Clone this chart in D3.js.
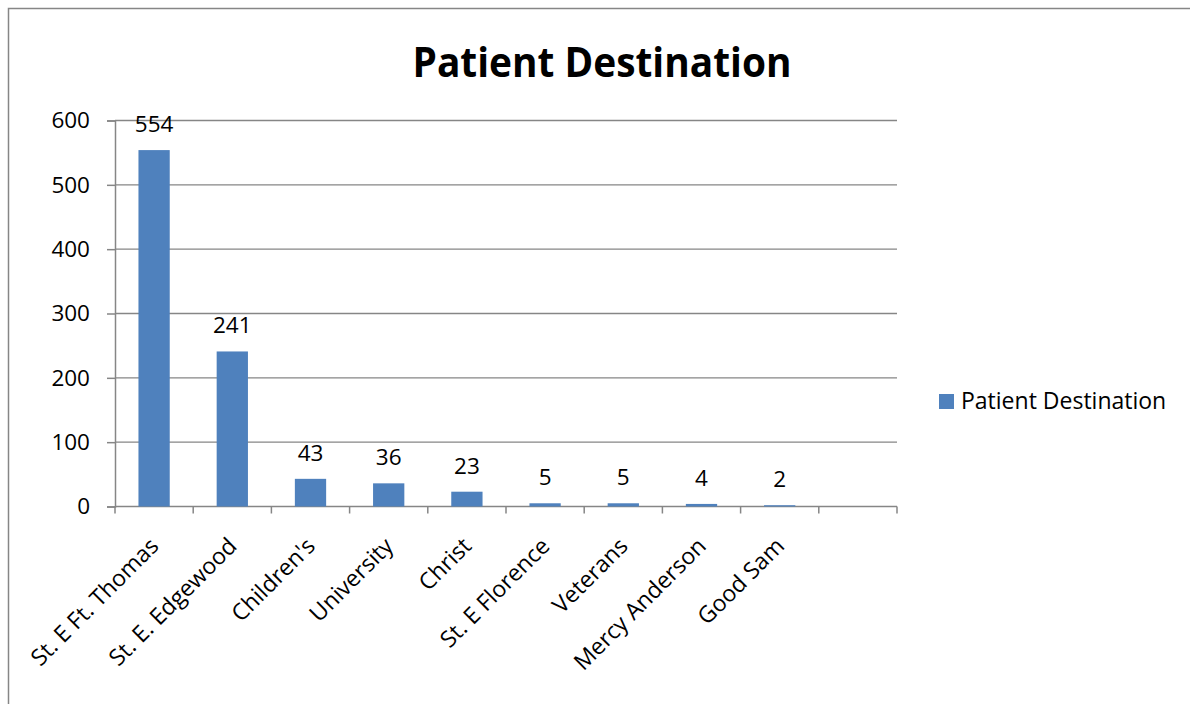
<!DOCTYPE html>
<html>
<head>
<meta charset="utf-8">
<script src="https://cdn.jsdelivr.net/npm/d3@7"></script>
<style>
  body { margin: 0; background: #fff; }
  text { font-family: "Open Sans", sans-serif; fill: #000; }
</style>
</head>
<body>
<div id="chart"></div>
<script>
var svgWidth = 1190;
var svgHeight = 704;

// data
var categories = ["St. E Ft. Thomas", "St. E. Edgewood", "Children's", "University", "Christ",
                  "St. E Florence", "Veterans", "Mercy Anderson", "Good Sam", ""];
var values = [554, 241, 43, 36, 23, 5, 5, 4, 2, null];
var yTicks = [0, 100, 200, 300, 400, 500, 600];
var seriesName = "Patient Destination";

var margin = { top: 120.5, left: 115, right: 293, bottom: 197.5 };
var width = svgWidth - margin.left - margin.right;
var height = svgHeight - margin.top - margin.bottom;

var svg = d3.select("#chart")
  .append("svg")
  .attr("width", svgWidth)
  .attr("height", svgHeight);

// outer frame
svg.append("rect")
  .attr("x", 8.5).attr("y", 8.5)
  .attr("width", svgWidth).attr("height", svgHeight)
  .attr("fill", "none")
  .attr("stroke", "#868686")
  .attr("stroke-width", 1.5);

svg.append("text")
  .attr("x", 412.5).attr("y", 76.5)
  .attr("textLength", 379)
  .attr("lengthAdjust", "spacingAndGlyphs")
  .style("font-size", "42px")
  .style("font-weight", "bold")
  .text(seriesName);

var chartGroup = svg.append("g")
  .attr("transform", `translate(${margin.left}, ${margin.top})`);

var xScale = d3.scaleBand()
  .domain(d3.range(categories.length))
  .range([0, width])
  .paddingInner(0.6)
  .paddingOuter(0.3);

var yScale = d3.scaleLinear()
  .domain([0, 600])
  .range([height, 0]);

// gridlines
chartGroup.selectAll(".grid")
  .data(yTicks.slice(1))
  .enter()
  .append("line")
  .attr("x1", 0).attr("x2", width)
  .attr("y1", d => yScale(d)).attr("y2", d => yScale(d))
  .attr("stroke", "#868686")
  .attr("stroke-width", 1.3);

// y axis
var leftAxis = d3.axisLeft(yScale)
  .tickValues(yTicks)
  .tickSize(8)
  .tickPadding(17);
var yAxis = chartGroup.append("g").call(leftAxis);
yAxis.select(".domain").attr("stroke", "#868686").attr("stroke-width", 1.5);
yAxis.selectAll(".tick line").attr("stroke", "#868686").attr("stroke-width", 1.5);
yAxis.selectAll(".tick text")
  .style("font-size", "22.5px")
  .style("font-family", "'Open Sans', sans-serif")
  .attr("fill", "#000");

// x axis with ticks at band boundaries
var step = xScale.step();
chartGroup.append("line")
  .attr("x1", 0).attr("x2", width)
  .attr("y1", height).attr("y2", height)
  .attr("stroke", "#868686")
  .attr("stroke-width", 1.5);
chartGroup.selectAll(".xtick")
  .data(d3.range(categories.length + 1))
  .enter()
  .append("line")
  .attr("x1", d => d * step).attr("x2", d => d * step)
  .attr("y1", height).attr("y2", height + 7)
  .attr("stroke", "#868686")
  .attr("stroke-width", 1.5);

// bars
chartGroup.selectAll(".bar")
  .data(values)
  .enter()
  .filter(d => d !== null)
  .append("rect")
  .attr("x", (d, i) => xScale(i))
  .attr("y", d => yScale(d))
  .attr("width", xScale.bandwidth())
  .attr("height", d => height - yScale(d))
  .attr("fill", "#4F81BD");

// value labels
chartGroup.selectAll(".val")
  .data(values)
  .enter()
  .filter(d => d !== null)
  .append("text")
  .attr("x", (d, i) => xScale(i) + xScale.bandwidth() / 2)
  .attr("y", d => yScale(d) - 18)
  .attr("text-anchor", "middle")
  .style("font-size", "22.5px")
  .text(d => d);

// category labels
chartGroup.selectAll(".cat")
  .data(categories)
  .enter()
  .append("text")
  .attr("text-anchor", "end")
  .attr("transform", (d, i) => `translate(${xScale(i) + xScale.bandwidth() / 2 + 6}, ${height + 41}) rotate(-45)`)
  .style("font-size", "23px")
  .text(d => d);

// legend
var legend = svg.append("g")
  .attr("transform", "translate(939, 394)");
legend.append("rect")
  .attr("width", 15).attr("height", 15)
  .attr("fill", "#4F81BD");
legend.append("text")
  .attr("x", 22).attr("y", 15)
  .style("font-size", "23px")
  .text(seriesName);
</script>
</body>
</html>
